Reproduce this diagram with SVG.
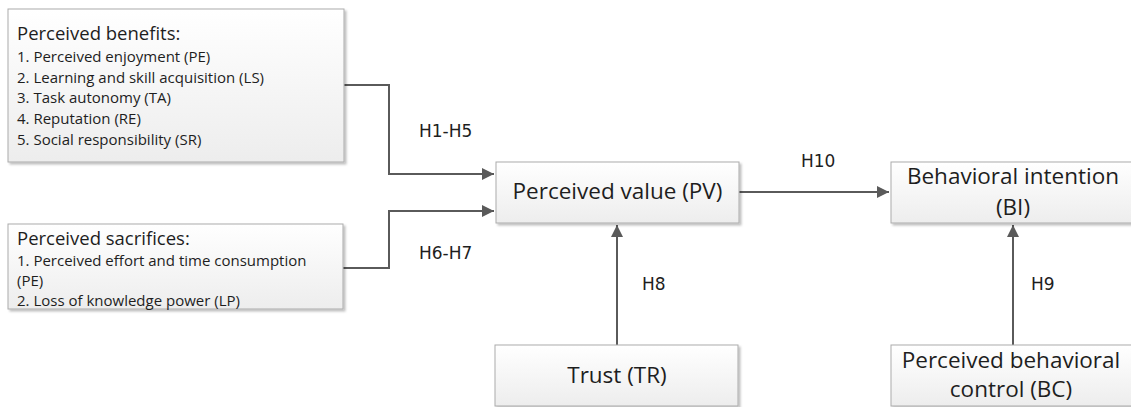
<svg xmlns="http://www.w3.org/2000/svg" width="1131" height="407" viewBox="0 0 1131 407">
<style>
.box{fill:url(#g);stroke:#ababab;stroke-width:1;filter:url(#sh)}
.t{font-family:"Open Sans",sans-serif;fill:#1e1e1e}
.big{font-size:22.5px;text-anchor:middle}
.ttl{font-size:18.5px}
.itm{font-size:15px}
.lbl{font-family:"DejaVu Sans",sans-serif;font-size:17px;fill:#1e1e1e}
.c{fill:none;stroke:#5a5a5a;stroke-width:2}
</style>
<defs>
<linearGradient id="g" x1="0" y1="0" x2="0" y2="1">
<stop offset="0" stop-color="#ffffff"/>
<stop offset="1" stop-color="#ededed"/>
</linearGradient>
<filter id="sh" x="-5%" y="-5%" width="115%" height="125%">
<feDropShadow dx="2" dy="2" stdDeviation="1.2" flood-color="#000" flood-opacity="0.25"/>
</filter>
<marker id="a" markerUnits="userSpaceOnUse" markerWidth="14" markerHeight="14" refX="12" refY="6" orient="auto">
<path d="M0,0 L12,6 L0,12 Z" fill="#5a5a5a"/>
</marker>
</defs>
<g id="connectors">
<path class="c" d="M344,85 H389 V174 H494" marker-end="url(#a)"/>
<path class="c" d="M343,268 H389 V211 H494" marker-end="url(#a)"/>
<path class="c" d="M617,345 V225" marker-end="url(#a)"/>
<path class="c" d="M739,192 H889" marker-end="url(#a)"/>
<path class="c" d="M1013,345 V225" marker-end="url(#a)"/>
<text class="lbl" x="419" y="137">H1-H5</text>
<text class="lbl" x="419" y="259">H6-H7</text>
<text class="lbl" x="642" y="290">H8</text>
<text class="lbl" x="801" y="167">H10</text>
<text class="lbl" x="1031" y="290">H9</text>
</g>
<g id="benefits">
<rect class="box" x="8" y="9" width="336" height="153"/>
<text class="t ttl" x="17" y="40">Perceived benefits:</text>
<text class="t itm" x="17" y="62">1. Perceived enjoyment (PE)</text>
<text class="t itm" x="17" y="83">2. Learning and skill acquisition (LS)</text>
<text class="t itm" x="17" y="103">3. Task autonomy (TA)</text>
<text class="t itm" x="17" y="124">4. Reputation (RE)</text>
<text class="t itm" x="17" y="145">5. Social responsibility (SR)</text>
</g>
<g id="sacrifices">
<rect class="box" x="8" y="224" width="335" height="85"/>
<text class="t ttl" x="17" y="245">Perceived sacrifices:</text>
<text class="t itm" x="17" y="266">1. Perceived effort and time consumption</text>
<text class="t itm" x="17" y="286">(PE)</text>
<text class="t itm" x="17" y="306">2. Loss of knowledge power (LP)</text>
</g>
<g id="pv">
<rect class="box" x="496" y="162" width="243" height="61"/>
<text class="t big" x="617.5" y="199">Perceived value (PV)</text>
</g>
<g id="bi">
<rect class="box" x="891" y="162" width="244" height="61"/>
<text class="t big" x="1013" y="184">Behavioral intention</text>
<text class="t big" x="1013" y="215">(BI)</text>
</g>
<g id="tr">
<rect class="box" x="495" y="345" width="243" height="61"/>
<text class="t big" x="617" y="383">Trust (TR)</text>
</g>
<g id="bc">
<rect class="box" x="891" y="345" width="244" height="61"/>
<text class="t big" x="1011" y="368">Perceived behavioral</text>
<text class="t big" x="1011" y="397">control (BC)</text>
</g>
</svg>
